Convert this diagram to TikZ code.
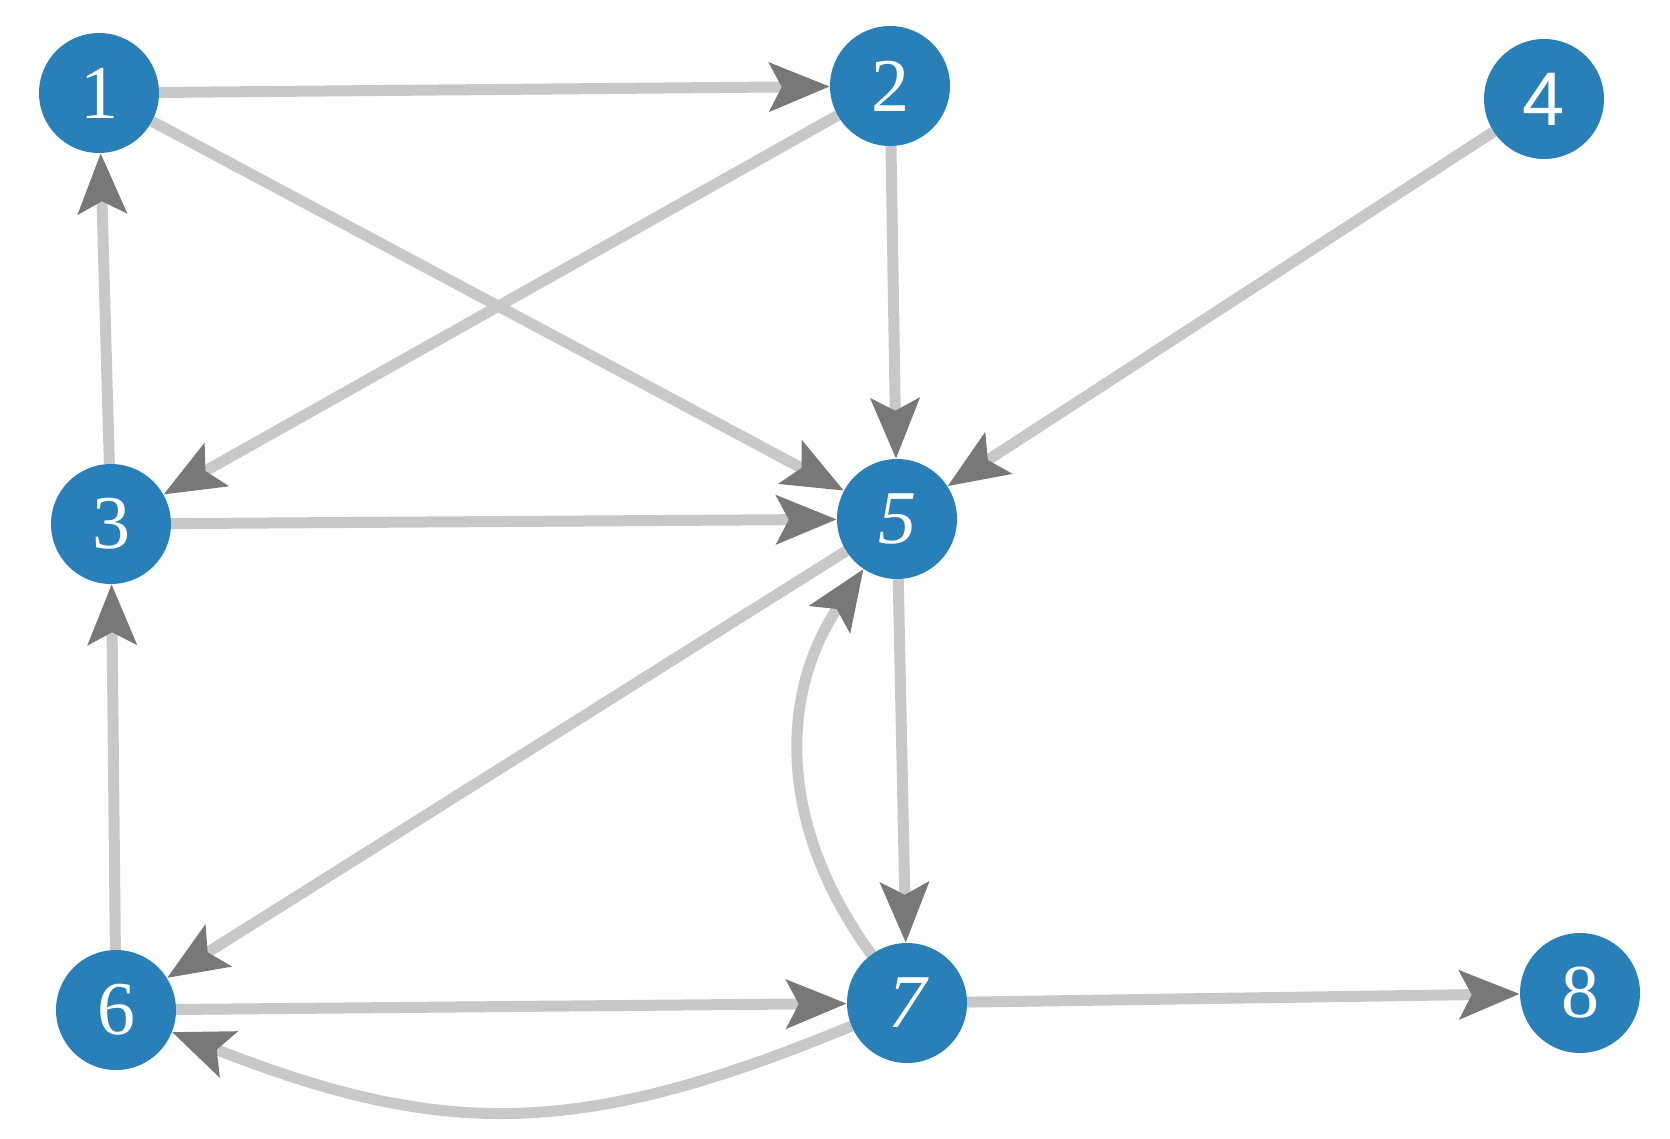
\documentclass[tikz,border=0pt]{standalone}
\usepackage{fontspec}
\setmainfont{Liberation Serif}
\newfontfamily\digitsans{Liberation Sans}
\usetikzlibrary{arrows.meta,backgrounds}
\definecolor{nodeblue}{RGB}{41,128,185}
\definecolor{edgegray}{RGB}{200,200,200}
\definecolor{tipgray}{RGB}{120,120,120}
\begin{document}
\begin{tikzpicture}[x=1pt,y=-1pt,
  vertex/.style={circle,fill=nodeblue,draw=none,minimum size=120pt,inner sep=0pt,
    text=white,font=\fontsize{76}{80}\selectfont},
  link/.style={draw=edgegray,line width=11pt,
    -{Stealth[length=60pt,width=48pt,inset=12pt,color=tipgray]}}]
\useasboundingbox (0,0) rectangle (1670,1138);
\node[vertex] (n1) at (99,93) {1};
\node[vertex] (n2) at (890,86) {2};
\node[vertex] (n4) at (1544,99) {\digitsans 4};
\node[vertex] (n3) at (111,524) {3};
\node[vertex] (n5) at (897,519) {\itshape 5};
\node[vertex] (n6) at (116,1010) {6};
\node[vertex] (n7) at (907,1003) {\itshape 7};
\node[vertex] (n8) at (1580,993) {8};
\begin{scope}[on background layer]
\draw[link] (n1) -- (n2);
\draw[link] (n1) -- (n5);
\draw[link] (n2) -- (n3);
\draw[link] (n2) -- (n5);
\draw[link] (n4) -- (n5);
\draw[link] (n3) -- (n1);
\draw[link] (n3) -- (n5);
\draw[link] (n6) -- (n3);
\draw[link] (n5) -- (n6);
\draw[link] (n5) -- (n7);
\draw[link] (n7) to[bend left=35,looseness=1.03] (n5);
\draw[link] (n6) -- (n7);
\draw[link] (n7) to[bend left=22,looseness=1.1] (n6);
\draw[link] (n7) -- (n8);
\end{scope}
\end{tikzpicture}
\end{document}
